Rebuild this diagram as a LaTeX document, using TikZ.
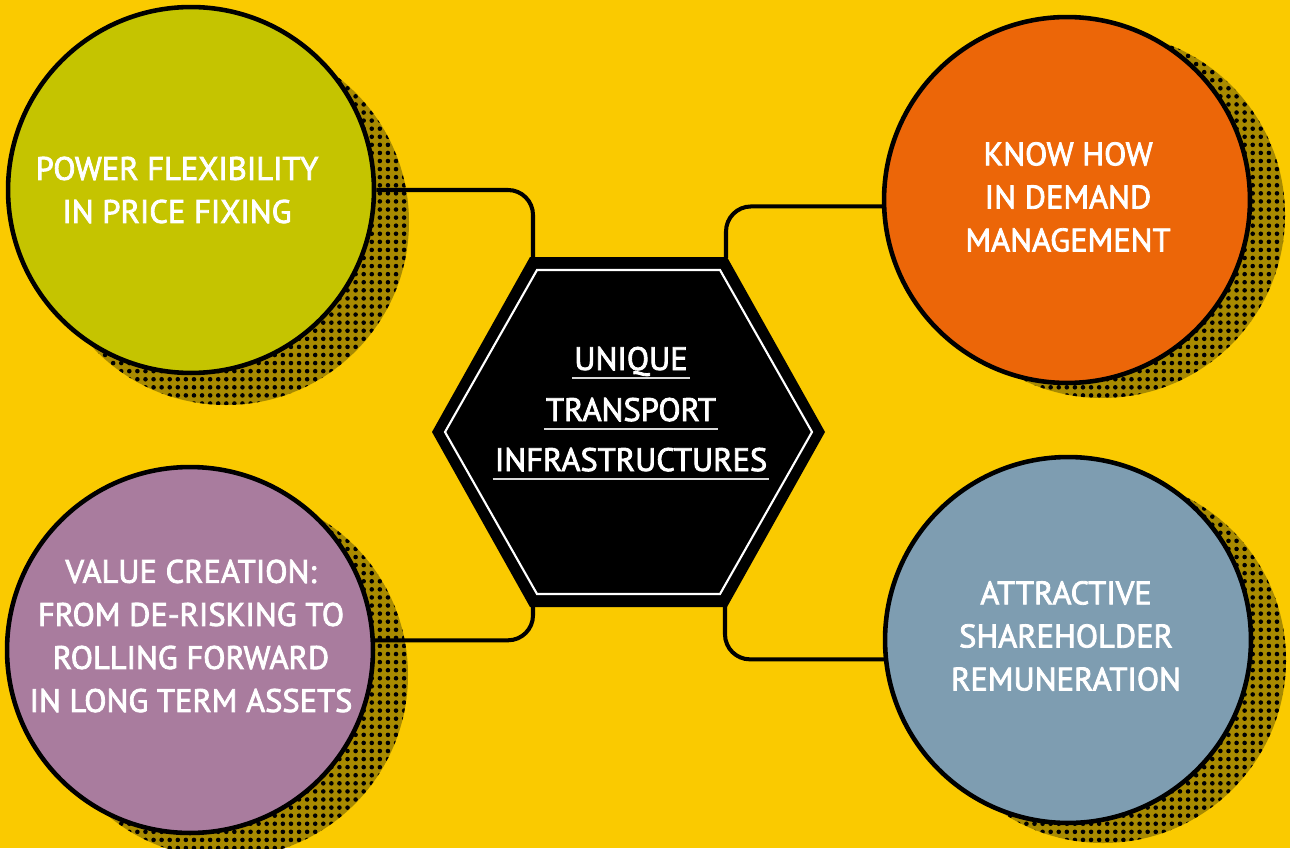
\documentclass[tikz,border=0pt]{standalone}
\usepackage{fontspec}
\setmainfont{PT Sans}
\newfontfamily\napis{PT Sans}[FakeBold=2.5]
\usepackage{tikz}
\usetikzlibrary{positioning}
\usetikzlibrary{calc}
\usetikzlibrary{patterns.meta}

\definecolor{tlo}{RGB}{250,202,0}
\definecolor{cien}{RGB}{168,138,0}
\definecolor{zielony}{RGB}{197,196,0}
\definecolor{pomarancz}{RGB}{236,102,8}
\definecolor{fiolet}{RGB}{169,124,158}
\definecolor{szary}{RGB}{126,157,177}

\tikzset{
  bubble/.style={circle, draw=black, line width=2.6pt, minimum size=7.32cm, inner sep=0pt},
  link/.style={line width=2.3pt, rounded corners=0.5cm},
  txt/.style={text=white, align=center, font=\napis\fontsize{18.5}{24.5}\selectfont},
  uline/.style={draw=white!85!black, line width=1pt},
}

\begin{document}
\begin{tikzpicture}[x=0.02cm, y=-0.02cm]
\useasboundingbox (0,0) rectangle (1290,848);
\clip (0,0) rectangle (1290,848);
\fill[tlo] (0,0) rectangle (1290,848);

%cienie
\foreach \x/\y in {226/222, 1102/215, 225/675, 1103/660}{
    \fill[cien] (\x,\y) circle (183);
    \fill[pattern={Dots[radius=1.3pt,distance=4.6pt]}, pattern color=black] (\x,\y) circle (183);
}

%kola
\node[bubble, fill=zielony] (pf) at (191,190) {};
\node[bubble, fill=pomarancz] (kh) at (1067,200) {};
\node[bubble, fill=fiolet] (vc) at (190,650) {};
\node[bubble, fill=szary] (ar) at (1068,640) {};

%punkty na szesciokacie
\coordinate (hnw) at (533,258);
\coordinate (hne) at (726,258);
\coordinate (hsw) at (533,606);
\coordinate (hse) at (725,606);

%polaczenia
\draw[link] (pf.east) -| (hnw);
\draw[link] (kh.182) -| (hne);
\draw[link] (vc.3) -| (hsw);
\draw[link] (ar.186) -| (hse);

%szesciokat
\fill[black] (432,432) -- (530,257) -- (727,257) -- (825,432) -- (727,607) -- (530,607) -- cycle;
\draw[white, line width=1.2pt] (445,432) -- (537,270) -- (720,270) -- (812,432) -- (720,594) -- (537,594) -- cycle;

\node[txt, anchor=base, inner xsep=1pt] (u1) at (631,370) {UNIQUE};
\node[txt, anchor=base, inner xsep=1pt] (u2) at (631,421) {TRANSPORT};
\node[txt, anchor=base, inner xsep=1pt] (u3) at (631,471) {INFRASTRUCTURES};
\foreach \n in {u1,u2,u3}
    \draw[uline] ($(\n.base west)+(0,8)$) -- ($(\n.base east)+(0,8)$);

%napisy
\node[txt] (pft) at (177,190) {POWER FLEXIBILITY\\IN PRICE FIXING};
\node[txt] (kht) at (1068,197) {KNOW HOW\\IN DEMAND\\MANAGEMENT};
\node[txt] (vct) at (191,636) {VALUE CREATION:\\FROM DE-RISKING TO\\ROLLING FORWARD\\IN LONG TERM ASSETS};
\node[txt] (art) at (1066,636) {ATTRACTIVE\\SHAREHOLDER\\REMUNERATION};

%end
\end{tikzpicture}
\end{document}
